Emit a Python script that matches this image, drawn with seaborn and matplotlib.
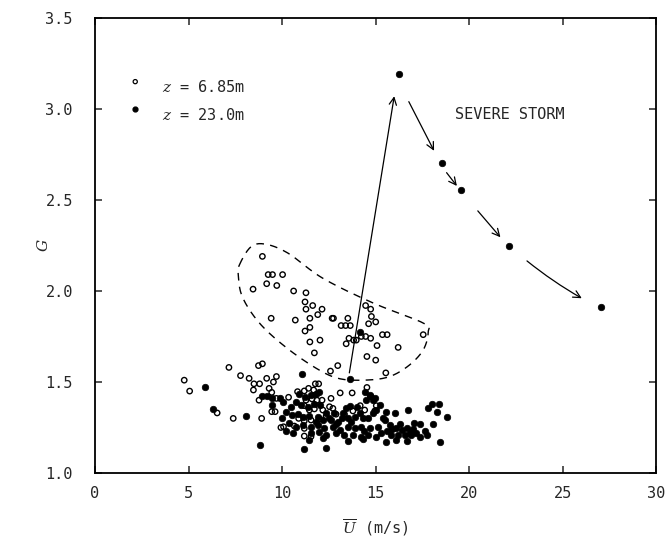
import numpy as np
import pandas as pd
import matplotlib
matplotlib.use("Agg")
import matplotlib.pyplot as plt
import seaborn as sns

# ---------------- data ----------------
open_u = [8.95, 9.26, 9.49, 10.03, 9.18, 9.72, 8.45, 10.62, 11.28, 11.23, 11.64, 11.28, 12.14, 11.91,
          12.68, 9.42, 10.71, 11.49, 11.49, 11.23, 11.49, 12.03, 11.73,
          14.47, 14.74, 14.78, 15.01, 14.63, 12.75, 13.52, 13.16, 13.40, 13.65, 13.58, 13.83, 13.97,
          14.24, 14.47, 14.74, 13.43, 15.37, 15.62, 15.08, 16.21, 14.54, 15.01, 17.55, 12.98, 15.55, 12.59,
          4.77, 5.06, 6.53, 7.39, 8.91, 7.16, 8.74, 8.95, 7.78, 8.24, 8.50, 8.80, 9.18, 9.70, 9.54, 9.31,
          8.47, 9.45, 8.77, 9.70, 9.45, 9.63, 9.94,
          11.78, 11.96, 13.11, 13.75, 14.54, 10.35, 10.83, 11.19, 11.42, 11.69, 11.28, 11.60, 11.87, 12.14,
          12.62, 11.19, 11.46, 11.73, 12.18, 12.54, 12.72, 10.89, 11.19, 11.55, 12.00, 12.35, 12.89, 13.34,
          13.79, 14.18, 14.42, 14.96, 10.08, 10.66, 11.19, 11.19, 11.55, 15.04]
open_g = [2.19, 2.09, 2.09, 2.09, 2.04, 2.03, 2.01, 2.00, 1.99, 1.94, 1.92, 1.90, 1.90, 1.87,
          1.85, 1.85, 1.84, 1.85, 1.80, 1.78, 1.72, 1.73, 1.66,
          1.92, 1.90, 1.86, 1.83, 1.82, 1.85, 1.85, 1.81, 1.81, 1.81, 1.74, 1.73, 1.73,
          1.75, 1.75, 1.74, 1.71, 1.76, 1.76, 1.70, 1.69, 1.64, 1.62, 1.76, 1.59, 1.55, 1.56,
          1.51, 1.45, 1.33, 1.30, 1.30, 1.58, 1.59, 1.60, 1.535, 1.52, 1.49, 1.49, 1.52, 1.53, 1.50, 1.465,
          1.456, 1.443, 1.40, 1.41, 1.337, 1.337, 1.25,
          1.49, 1.49, 1.44, 1.44, 1.47, 1.416, 1.447, 1.451, 1.465, 1.456, 1.40, 1.407, 1.40, 1.40,
          1.41, 1.37, 1.346, 1.352, 1.346, 1.364, 1.355, 1.30, 1.286, 1.291, 1.297, 1.309, 1.323, 1.323,
          1.341, 1.37, 1.346, 1.341, 1.254, 1.258, 1.245, 1.203, 1.20, 1.37]

filled_u = [5.87, 6.30, 8.05, 8.83, 8.95, 9.22, 9.49, 9.88, 9.45, 14.15,
            11.06, 13.61, 14.42, 14.72, 14.51, 14.87, 10.92, 11.25, 11.55, 11.82, 11.96, 10.03, 10.74,
            11.01, 11.37, 11.73, 12.05, 10.20, 10.53, 10.83, 11.10, 11.46, 11.91, 12.35, 13.43, 13.52,
            13.88, 14.15, 14.33, 14.69, 14.96, 15.23, 15.04, 14.87, 14.60,
            10.39, 10.74, 11.10, 11.55, 11.91, 12.27, 12.72, 13.08, 13.52, 13.88, 14.24, 14.69, 15.13,
            11.55, 12.00, 12.35, 12.89, 13.34, 13.79, 14.24, 14.60, 15.04,
            11.46, 12.18, 13.52, 14.33, 11.19, 12.35,
            15.58, 16.03, 16.75, 17.82, 18.41, 18.27, 18.84, 18.05, 17.05, 17.38, 17.65, 17.73, 15.49,
            15.76, 16.09, 16.39, 16.69, 16.57, 16.92, 17.19, 17.38, 15.85, 16.21, 15.58, 16.12, 16.66,
            18.45, 18.04, 12.60, 13.00, 13.20, 12.80, 10.50, 10.00,
            12.50, 13.25, 13.70, 12.90, 15.30, 15.90, 16.30, 15.60, 16.85, 17.00, 10.20, 10.60,
            14.00, 13.65, 11.80, 12.20, 14.40, 15.40]
filled_g = [1.471, 1.352, 1.313, 1.154, 1.425, 1.425, 1.41, 1.41, 1.374, 1.773,
            1.544, 1.516, 1.447, 1.425, 1.401, 1.401, 1.434, 1.419, 1.429, 1.434, 1.443, 1.392, 1.392,
            1.374, 1.364, 1.377, 1.374, 1.337, 1.319, 1.323, 1.309, 1.315, 1.309, 1.328, 1.355, 1.30,
            1.309, 1.328, 1.30, 1.429, 1.41, 1.374, 1.346, 1.328, 1.30,
            1.273, 1.254, 1.264, 1.254, 1.264, 1.245, 1.254, 1.236, 1.254, 1.245, 1.254, 1.245, 1.254,
            1.218, 1.227, 1.209, 1.218, 1.209, 1.209, 1.20, 1.209, 1.20,
            1.181, 1.194, 1.176, 1.187, 1.13, 1.139,
            1.337, 1.328, 1.346, 1.359, 1.377, 1.334, 1.306, 1.268, 1.273, 1.269, 1.231, 1.209, 1.291,
            1.264, 1.249, 1.236, 1.245, 1.209, 1.209, 1.218, 1.20, 1.209, 1.209, 1.172, 1.181, 1.176,
            1.169, 1.377, 1.29, 1.28, 1.30, 1.33, 1.36, 1.30,
            1.30, 1.33, 1.28, 1.27, 1.22, 1.24, 1.27, 1.23, 1.22, 1.24, 1.23, 1.22,
            1.36, 1.37, 1.28, 1.29, 1.23, 1.30]

# severe storm sequence (z = 23.0 m)
storm_u = [16.25, 18.54, 19.58, 22.14, 27.07]
storm_g = [3.19, 2.705, 2.555, 2.247, 1.914]

# arrows (start -> end) in data units
arrow_start = [(13.60, 1.55), (16.78, 3.04), (18.80, 2.65), (20.47, 2.44), (23.10, 2.165)]
arrow_end = [(16.00, 3.07), (18.13, 2.77), (19.35, 2.577), (21.68, 2.295), (26.03, 1.96)]
arrow_rad = [0.0, 0.0, 0.0, 0.0, 0.04]

# dashed envelope around the lower-level outliers
env_u = [7.72, 8.31, 9.06, 10.30, 12.18, 14.87, 17.55, 17.82, 17.55, 16.75, 15.67, 14.33, 13.00,
         11.80, 10.19, 8.79, 7.88, 7.66]
env_g = [2.143, 2.24, 2.258, 2.209, 2.07, 1.934, 1.824, 1.775, 1.676, 1.588, 1.527, 1.51, 1.52,
         1.577, 1.692, 1.824, 1.967, 2.088]

legend_labels = ["= 6.85m", "= 23.0m"]
x_ticks = [0, 5, 10, 15, 20, 25, 30]
y_ticks = [1.0, 1.5, 2.0, 2.5, 3.0, 3.5]

# ---------------- style ----------------
sns.set_style("ticks")
plt.rcParams["font.family"] = ["DejaVu Sans Mono", "DejaVu Sans"]
plt.rcParams["mathtext.fontset"] = "dejavuserif"

fig = plt.figure(figsize=(6.65, 5.45), dpi=100)
ax = fig.add_axes([0.1429, 0.1321, 0.8436, 0.835])

df_open = pd.DataFrame({"U": open_u, "G": open_g})
df_fill = pd.DataFrame({"U": filled_u, "G": filled_g})
df_storm = pd.DataFrame({"U": storm_u, "G": storm_g})

sns.scatterplot(data=df_open, x="U", y="G", ax=ax, marker="o", s=15,
                facecolors="none", edgecolor="black", linewidth=1.0, zorder=3)
sns.scatterplot(data=df_fill, x="U", y="G", ax=ax, marker="o", s=22,
                color="black", edgecolor="black", linewidth=0.5, zorder=4)
sns.scatterplot(data=df_storm, x="U", y="G", ax=ax, marker="o", s=22,
                color="black", edgecolor="black", linewidth=0.5, zorder=4)

# smooth closed dashed envelope (Catmull-Rom through envelope points, in scaled space)
px = np.array(env_u) / 30.0
py = (np.array(env_g) - 1.0) / 2.5
n = len(px)
cx, cy = [], []
tt = np.linspace(0, 1, 12, endpoint=False)
for i in range(n):
    p0 = np.array([px[(i - 1) % n], py[(i - 1) % n]])
    p1 = np.array([px[i], py[i]])
    p2 = np.array([px[(i + 1) % n], py[(i + 1) % n]])
    p3 = np.array([px[(i + 2) % n], py[(i + 2) % n]])
    for t in tt:
        pt = 0.5 * ((2 * p1) + (-p0 + p2) * t + (2 * p0 - 5 * p1 + 4 * p2 - p3) * t ** 2
                    + (-p0 + 3 * p1 - 3 * p2 + p3) * t ** 3)
        cx.append(pt[0]); cy.append(pt[1])
cx.append(cx[0]); cy.append(cy[0])
ax.plot(np.array(cx) * 30.0, np.array(cy) * 2.5 + 1.0, color="black", lw=1.0,
        dashes=(5.5, 4.5), zorder=2)

for (s, e, r) in zip(arrow_start, arrow_end, arrow_rad):
    ax.annotate("", xy=e, xytext=s,
                arrowprops=dict(arrowstyle="->", lw=0.9, color="black", shrinkA=0, shrinkB=0,
                                mutation_scale=13, connectionstyle=f"arc3,rad={r}"),
                zorder=5)

ax.text(22.2, 2.97, "SEVERE STORM", ha="center", va="center", fontsize=11)

# legend drawn inside the axes
ax.scatter([2.15], [3.15], s=9, facecolors="none", edgecolors="black", linewidths=0.9)
ax.scatter([2.15], [3.0], s=12, color="black")
ax.text(3.6, 3.12, "$z$ " + legend_labels[0], ha="left", va="center", fontsize=11)
ax.text(3.6, 2.965, "$z$ " + legend_labels[1], ha="left", va="center", fontsize=11)

ax.set_xlim(0, 30)
ax.set_ylim(1.0, 3.5)
ax.set_xticks(x_ticks)
ax.set_yticks(y_ticks)
ax.set_xticklabels([str(v) for v in x_ticks])
ax.set_yticklabels([f"{v:.1f}" for v in y_ticks])
ax.tick_params(direction="in", top=True, right=True, length=5, width=1.1,
               labelsize=11, pad=9)
ax.tick_params(axis="y", pad=16)
for sp in ax.spines.values():
    sp.set_visible(True)
    sp.set_linewidth(1.3)
    sp.set_color("black")

ax.set_xlabel(r"$\overline{U}$ (m/s)", fontsize=11, labelpad=12)
ax.set_ylabel("$G$", fontsize=11, rotation=90)
ax.yaxis.set_label_coords(-0.078, 0.5)

fig.savefig("out.png", dpi=100, facecolor="white")
